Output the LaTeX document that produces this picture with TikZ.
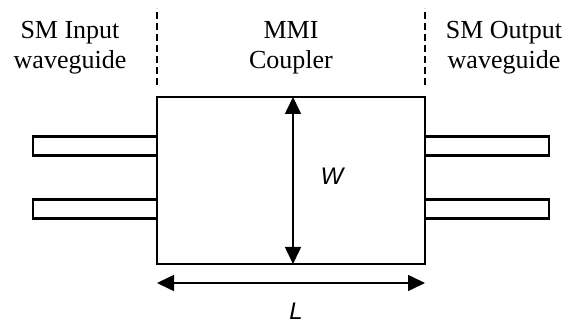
\documentclass[tikz,border=0pt]{standalone}
\usepackage{fontspec}
\setmainfont{Liberation Serif}
\newfontfamily\dimfont{Liberation Sans}
\usetikzlibrary{arrows.meta,positioning}
\tikzset{
    coupler/.style={
        rectangle,
        draw=black,
        line width=1.3pt,
        minimum width=134pt,
        minimum height=83.5pt,
        inner sep=0pt,
        outer sep=0pt
    },
    guide/.style={
        rectangle,
        draw=black,
        fill=white,
        line width=1.2pt,
        minimum width=62pt,
        minimum height=9.5pt,
        inner sep=0pt,
        outer sep=0pt
    },
    divider/.style={
        draw=black,
        line width=0.75pt,
        dash pattern=on 3.5pt off 2pt
    },
    dimarrow/.style={
        {Triangle[length=8.5pt,width=8pt]}-{Triangle[length=8.5pt,width=8pt]},
        draw=black,
        line width=0.8pt
    },
    heading/.style={
        font=\fontsize{13}{15}\selectfont,
        align=center,
        inner sep=0pt
    },
    dimlabel/.style={
        font=\dimfont\itshape\fontsize{12}{14}\selectfont,
        inner sep=0pt
    }
}

\begin{document}
\begin{tikzpicture}[x=0.5pt, y=-0.5pt]
\useasboundingbox (0,0) rectangle (572,325);

% coupler body
\node[coupler] (mmi) at (291,180.5) {};

% single-mode access guides
\node[guide, anchor=east] (inA) at ([yshift=-24.5pt]mmi.north west) {};
\node[guide, anchor=east] (inB) at ([yshift=-56pt]mmi.north west) {};
\node[guide, anchor=west] (outA) at ([yshift=-24.5pt]mmi.north east) {};
\node[guide, anchor=west] (outB) at ([yshift=-56pt]mmi.north east) {};

% region dividers
\coordinate (dlb) at ([yshift=6pt]mmi.north west);
\coordinate (dlt) at ([yshift=44.5pt]mmi.north west);
\coordinate (drb) at ([yshift=6pt]mmi.north east);
\coordinate (drt) at ([yshift=44.5pt]mmi.north east);
\draw[divider] (dlb) -- (dlt);
\draw[divider] (drb) -- (drt);

% headings
\node[heading] (hin) at (70,48) {SM Input\\waveguide};
\node[heading] (hmmi) at (291,48) {MMI\\Coupler};
\node[heading] (hout) at (504,48) {SM Output\\waveguide};

% width
\coordinate (wtop) at ([xshift=1pt]mmi.north);
\coordinate (wbot) at ([xshift=1pt]mmi.south);
\draw[dimarrow] (wtop) -- (wbot);
\node[dimlabel] (wlab) at (332,176) {W};

% length
\coordinate (lleft) at ([yshift=-9.5pt]mmi.south west);
\coordinate (lright) at ([yshift=-9.5pt]mmi.south east);
\draw[dimarrow] (lleft) -- (lright);
\node[dimlabel] (llab) at (296,311) {L};

\end{tikzpicture}
\end{document}
